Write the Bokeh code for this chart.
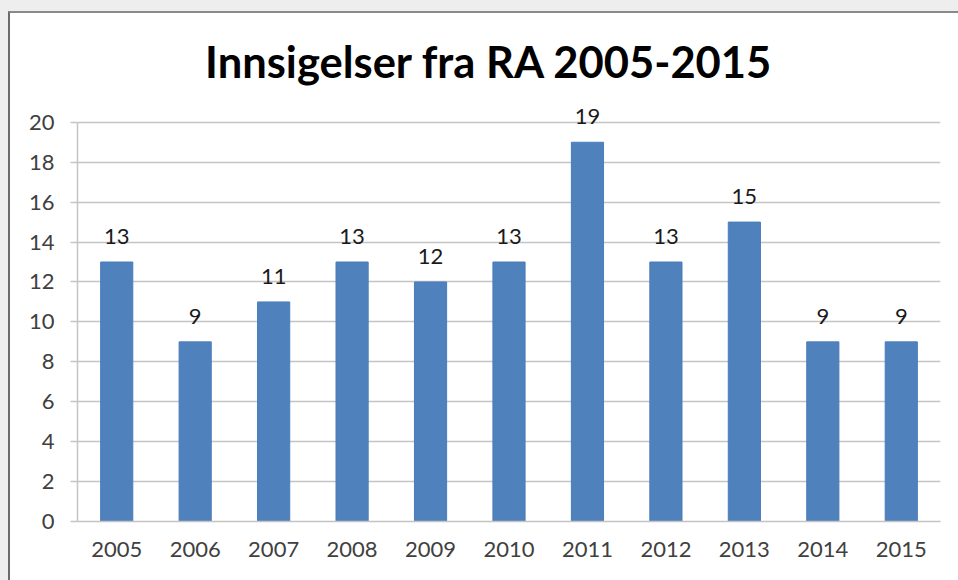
from bokeh.plotting import figure
from bokeh.models import ColumnDataSource, Range1d, FixedTicker, LabelSet, Label
from bokeh.core.properties import value
from bokeh.embed import file_html
from bokeh.resources import INLINE

years = ["2005", "2006", "2007", "2008", "2009", "2010", "2011", "2012", "2013", "2014", "2015"]
values = [13, 9, 11, 13, 12, 13, 19, 13, 15, 9, 9]
y_ticks = [0, 2, 4, 6, 8, 10, 12, 14, 16, 18, 20]
title_text = "Innsigelser fra RA 2005-2015"

FONT = "Lato"

src = ColumnDataSource(dict(x=years, top=values, label=[str(v) for v in values]))

p = figure(width=950, height=569, x_range=years, y_range=Range1d(0, 25),
           output_backend="svg", toolbar_location=None,
           min_border_left=67, min_border_right=20, min_border_top=9, min_border_bottom=61)
p.background_fill_color = "white"
p.border_fill_color = "white"
p.outline_line_color = None

p.vbar(x="x", top="top", width=0.41, source=src,
       fill_color="#4f81bd", line_color="#4a7dba", line_width=1)

labels = LabelSet(x="x", y="top", text="label", source=src, text_align="center",
                  text_baseline="alphabetic", y_offset=18, text_font=value(FONT),
                  text_font_size=value("22px"), text_color=value("#1a1a1a"))
p.add_layout(labels)

title = Label(x=5.25, y=23.05, text=title_text, text_align="center", text_baseline="middle",
              text_font=FONT, text_font_style="bold", text_font_size="43.5px", text_color="#000000")
p.add_layout(title)

p.xgrid.grid_line_color = None
p.ygrid.grid_line_color = "#c4c4c4"
p.ygrid.grid_line_width = 1.5
p.ygrid.bounds = (0, 20)

p.yaxis.ticker = FixedTicker(ticks=y_ticks)
p.yaxis.bounds = (0, 20)
p.yaxis.axis_line_color = "#c4c4c4"
p.yaxis.axis_line_width = 1.5
p.yaxis.major_tick_line_color = "#c4c4c4"
p.yaxis.major_tick_line_width = 1.5
p.yaxis.major_tick_out = 7
p.yaxis.major_tick_in = 0
p.yaxis.minor_tick_line_color = None
p.yaxis.major_label_standoff = 16
p.yaxis.major_label_text_font = FONT
p.yaxis.major_label_text_font_size = "22px"
p.yaxis.major_label_text_color = "#404040"

p.xaxis.axis_line_color = "#c4c4c4"
p.xaxis.axis_line_width = 1.5
p.xaxis.major_tick_line_color = None
p.xaxis.major_tick_out = 0
p.xaxis.major_tick_in = 0
p.xaxis.major_label_standoff = 20
p.xaxis.major_label_text_font = FONT
p.xaxis.major_label_text_font_size = "22px"
p.xaxis.major_label_text_color = "#404040"

p.margin = (11, 0, 0, 8)
p.styles = {
    "border-left": "2px solid #6b6b6b",
    "border-top": "2px solid #8a8a8a",
    "box-shadow": "0 -11px 0 0 #eeeeee, -8px 0 0 0 #eeeeee, -8px -11px 0 0 #eeeeee",
}

open("out.html", "w").write(file_html(p, INLINE))
